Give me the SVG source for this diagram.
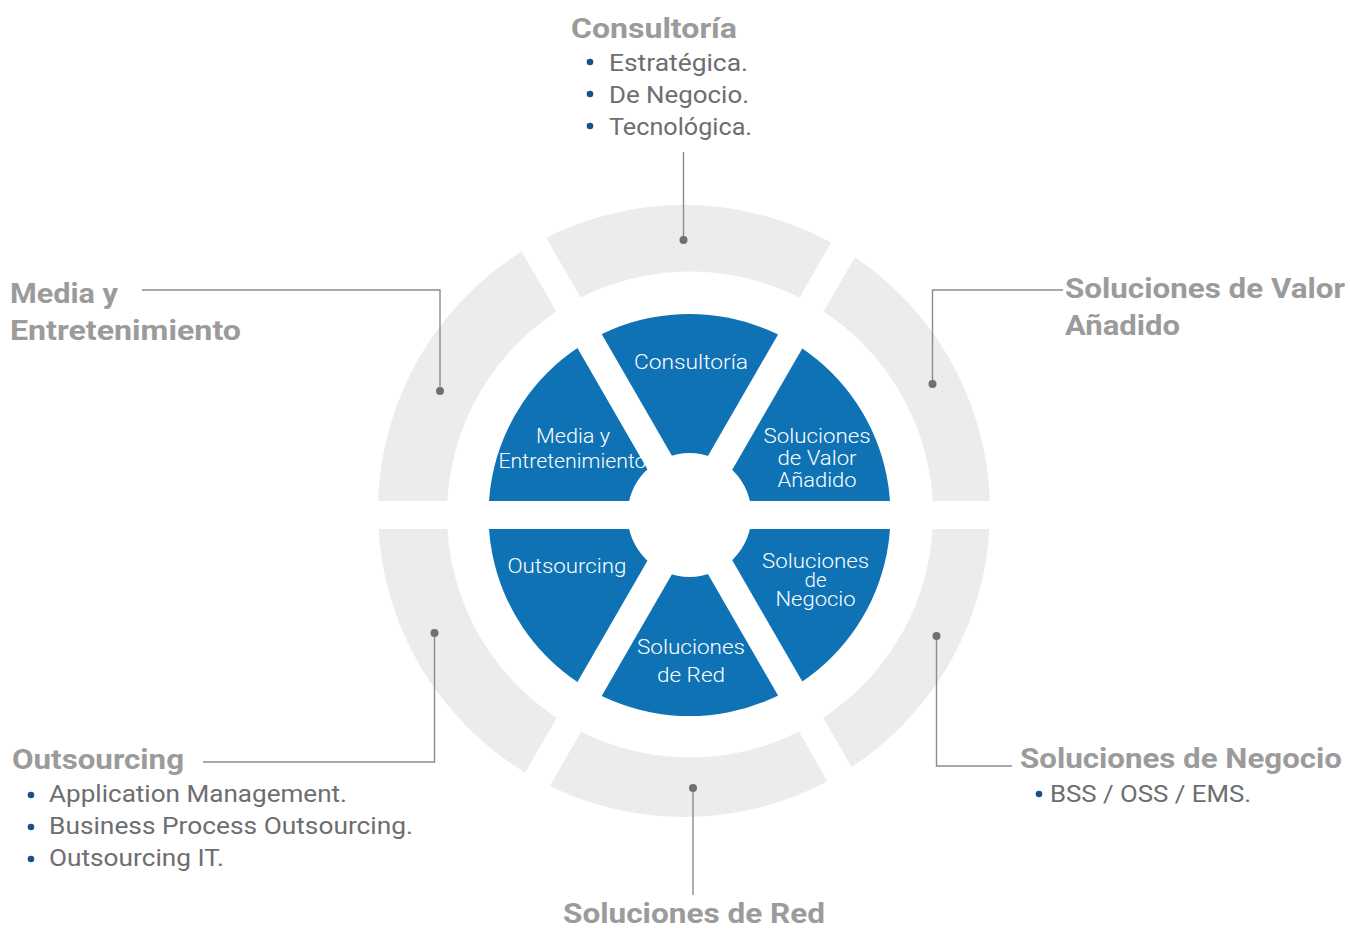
<svg xmlns="http://www.w3.org/2000/svg" xmlns:xlink="http://www.w3.org/1999/xlink" width="1350" height="930" viewBox="0 0 1350 930">
<style>
.title{font-family:Roboto,"Liberation Sans",sans-serif;font-weight:700;font-size:28px;fill:#9b9b9b}
.item{font-family:Roboto,"Liberation Sans",sans-serif;font-weight:400;font-size:23px;fill:#6d6e71}
.seg{font-family:Roboto,"Liberation Sans",sans-serif;font-weight:300;font-size:21px;fill:#ffffff;text-anchor:middle}
.bullet{fill:#1c4f8c}
.ring{fill:#ebecec}
.blue{fill:#0e72b5}
.conn{stroke:#8c8c8c;stroke-width:1.4;fill:none}
.dot{fill:#707070}
</style>
<defs>
<path id="ringShape" fill-rule="evenodd" d="M378,511 A306,306 0 1,0 990,511 A306,306 0 1,0 378,511 Z M447,514.5 A243,243 0 1,0 933,514.5 A243,243 0 1,0 447,514.5 Z"/>
<path id="discShape" fill-rule="evenodd" d="M488.5,515 A201,201 0 1,0 890.5,515 A201,201 0 1,0 488.5,515 Z M627.5,515 A62,62 0 1,0 751.5,515 A62,62 0 1,0 627.5,515 Z"/>
<clipPath id="cp-v"><polygon points="714.25,501 1110,501 912.12,158.27"/></clipPath>
<clipPath id="cp-c"><polygon points="690,487 887.88,144.27 492.12,144.27"/></clipPath>
<clipPath id="cp-m"><polygon points="665.75,501 467.88,158.27 270,501"/></clipPath>
<clipPath id="cp-o"><polygon points="665.75,529 270,529 467.88,871.73"/></clipPath>
<clipPath id="cp-r"><polygon points="690,543 492.12,885.73 887.88,885.73"/></clipPath>
<clipPath id="cp-n"><polygon points="714.25,529 912.12,871.73 1110,529"/></clipPath>
</defs>
<rect width="1350" height="930" fill="#ffffff"/>

<g id="node-consultoria">
<use xlink:href="#ringShape" class="ring" clip-path="url(#cp-c)"/>
<use xlink:href="#discShape" class="blue" clip-path="url(#cp-c)"/>
<text class="seg" x="691" y="369" textLength="114" lengthAdjust="spacingAndGlyphs">Consultoría</text>
<text class="title" x="571" y="38" textLength="166" lengthAdjust="spacingAndGlyphs">Consultoría</text>
<circle class="bullet" cx="590" cy="62" r="3.3"/>
<text class="item" x="609" y="71" textLength="139" lengthAdjust="spacingAndGlyphs">Estratégica.</text>
<circle class="bullet" cx="590" cy="94" r="3.3"/>
<text class="item" x="609" y="103" textLength="140" lengthAdjust="spacingAndGlyphs">De Negocio.</text>
<circle class="bullet" cx="590" cy="126" r="3.3"/>
<text class="item" x="609" y="135" textLength="143" lengthAdjust="spacingAndGlyphs">Tecnológica.</text>
</g>

<g id="node-valor">
<use xlink:href="#ringShape" class="ring" clip-path="url(#cp-v)"/>
<use xlink:href="#discShape" class="blue" clip-path="url(#cp-v)"/>
<text class="seg" x="817" y="443" textLength="107" lengthAdjust="spacingAndGlyphs">Soluciones</text>
<text class="seg" x="817" y="465" textLength="79" lengthAdjust="spacingAndGlyphs">de Valor</text>
<text class="seg" x="817" y="487" textLength="79" lengthAdjust="spacingAndGlyphs">Añadido</text>
<text class="title" x="1065" y="298" textLength="280" lengthAdjust="spacingAndGlyphs">Soluciones de Valor</text>
<text class="title" x="1065" y="335" textLength="115" lengthAdjust="spacingAndGlyphs">Añadido</text>
</g>

<g id="node-negocio">
<use xlink:href="#ringShape" class="ring" clip-path="url(#cp-n)"/>
<use xlink:href="#discShape" class="blue" clip-path="url(#cp-n)"/>
<text class="seg" x="815.5" y="568" textLength="107" lengthAdjust="spacingAndGlyphs">Soluciones</text>
<text class="seg" x="815.5" y="587" textLength="22" lengthAdjust="spacingAndGlyphs">de</text>
<text class="seg" x="815.5" y="606" textLength="80" lengthAdjust="spacingAndGlyphs">Negocio</text>
<text class="title" x="1020" y="768" textLength="322" lengthAdjust="spacingAndGlyphs">Soluciones de Negocio</text>
<circle class="bullet" cx="1039" cy="794" r="3.3"/>
<text class="item" x="1050" y="802" textLength="201" lengthAdjust="spacingAndGlyphs">BSS / OSS / EMS.</text>
</g>

<g id="node-red">
<use xlink:href="#ringShape" class="ring" clip-path="url(#cp-r)"/>
<use xlink:href="#discShape" class="blue" clip-path="url(#cp-r)"/>
<text class="seg" x="691" y="654" textLength="108" lengthAdjust="spacingAndGlyphs">Soluciones</text>
<text class="seg" x="691" y="682" textLength="68" lengthAdjust="spacingAndGlyphs">de Red</text>
<text class="title" x="563" y="923" textLength="262" lengthAdjust="spacingAndGlyphs">Soluciones de Red</text>
</g>

<g id="node-outsourcing">
<use xlink:href="#ringShape" class="ring" clip-path="url(#cp-o)"/>
<use xlink:href="#discShape" class="blue" clip-path="url(#cp-o)"/>
<text class="seg" x="567" y="573" textLength="119" lengthAdjust="spacingAndGlyphs">Outsourcing</text>
<text class="title" x="12" y="769" textLength="172" lengthAdjust="spacingAndGlyphs">Outsourcing</text>
<circle class="bullet" cx="31" cy="795" r="3.3"/>
<text class="item" x="49" y="802" textLength="298" lengthAdjust="spacingAndGlyphs">Application Management.</text>
<circle class="bullet" cx="31" cy="827" r="3.3"/>
<text class="item" x="49" y="834" textLength="364" lengthAdjust="spacingAndGlyphs">Business Process Outsourcing.</text>
<circle class="bullet" cx="31" cy="859" r="3.3"/>
<text class="item" x="49" y="866" textLength="175" lengthAdjust="spacingAndGlyphs">Outsourcing IT.</text>
</g>

<g id="node-media">
<use xlink:href="#ringShape" class="ring" clip-path="url(#cp-m)"/>
<use xlink:href="#discShape" class="blue" clip-path="url(#cp-m)"/>
<text class="seg" x="573" y="443" textLength="74" lengthAdjust="spacingAndGlyphs">Media y</text>
<text class="seg" x="572.5" y="468" textLength="148" lengthAdjust="spacingAndGlyphs">Entretenimiento</text>
<text class="title" x="10" y="303" textLength="108" lengthAdjust="spacingAndGlyphs">Media y</text>
<text class="title" x="10" y="340" textLength="231" lengthAdjust="spacingAndGlyphs">Entretenimiento</text>
</g>

<g id="connectors">
<polyline class="conn" points="683.5,152 683.5,240"/>
<circle class="dot" cx="683.5" cy="240" r="4"/>
<polyline class="conn" points="142,290 440,290 440,391"/>
<circle class="dot" cx="440" cy="391" r="4"/>
<polyline class="conn" points="1063,290 932.5,290 932.5,384"/>
<circle class="dot" cx="932.5" cy="384" r="4"/>
<polyline class="conn" points="203,762 434.5,762 434.5,633"/>
<circle class="dot" cx="434.5" cy="633" r="4"/>
<polyline class="conn" points="1012,766 936.5,766 936.5,636"/>
<circle class="dot" cx="936.5" cy="636" r="4"/>
<polyline class="conn" points="693,788 693,895"/>
<circle class="dot" cx="693" cy="788" r="4"/>
</g>
</svg>
